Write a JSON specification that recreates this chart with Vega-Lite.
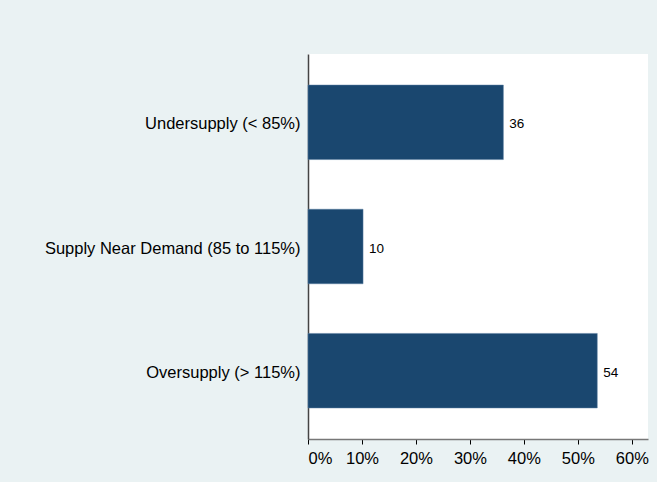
{
  "$schema": "https://vega.github.io/schema/vega-lite/v6.json",
  "autosize": {"type": "none"},
  "padding": {"left": 308, "top": 54, "right": 9, "bottom": 43},
  "width": 340,
  "height": 385,
  "background": "#EAF2F3",
  "config": {
    "view": {"fill": "white", "stroke": null},
    "font": "Liberation Sans"
  },
  "data": {
    "values": [
      {"category": "Undersupply (< 85%)", "pct": 36.2},
      {"category": "Supply Near Demand (85 to 115%)", "pct": 10.2},
      {"category": "Oversupply (> 115%)", "pct": 53.6}
    ]
  },
  "encoding": {
    "y": {
      "field": "category",
      "type": "nominal",
      "sort": null,
      "scale": {"paddingInner": 0.4, "paddingOuter": 0.25},
      "axis": {
        "title": null,
        "ticks": false,
        "domainColor": "#444444",
        "domainWidth": 1.5,
        "labelFontSize": 16.5,
        "labelLimit": 400,
        "labelColor": "#000000",
        "labelPadding": 8,
        "labelOffset": 2,
        "labelFont": "Liberation Sans"
      }
    },
    "x": {
      "field": "pct",
      "type": "quantitative",
      "scale": {"domain": [0, 63], "nice": false},
      "axis": {
        "title": null,
        "values": [0, 10, 20, 30, 40, 50, 60],
        "labelExpr": "datum.value + '%'",
        "grid": false,
        "domainColor": "#777777",
        "domainWidth": 1.5,
        "tickColor": "#000000",
        "tickSize": 5,
        "labelFontSize": 16.5,
        "labelColor": "#000000",
        "labelPadding": 6,
        "labelFont": "Liberation Sans"
      }
    }
  },
  "layer": [
    {
      "mark": {"type": "bar", "color": "#1A476F", "stroke": "#5A7FA0", "strokeWidth": 0.5}
    },
    {
      "mark": {"type": "text", "align": "left", "baseline": "middle", "dx": 6, "dy": 2, "fontSize": 13.5, "color": "#000000", "font": "Liberation Sans"},
      "encoding": {
        "text": {"field": "pct", "type": "quantitative", "format": ".0f"}
      }
    }
  ]
}
